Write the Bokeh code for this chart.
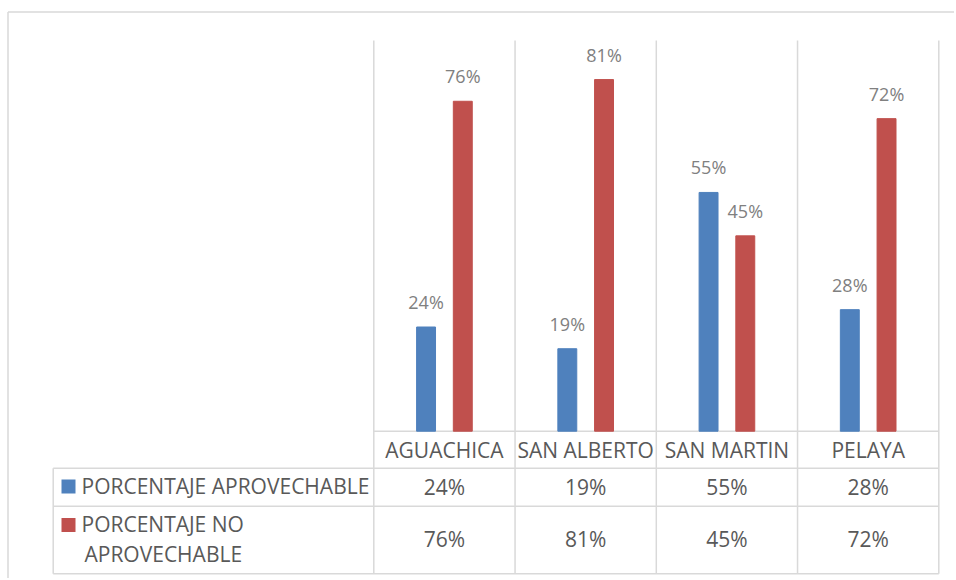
from bokeh.plotting import figure
from bokeh.models import Range1d, ColumnDataSource
from bokeh.core.properties import value
from bokeh.embed import file_html
from bokeh.resources import INLINE

# ---------------- data ----------------
categories = ["AGUACHICA", "SAN ALBERTO", "SAN MARTIN", "PELAYA"]
aprovechable = [0.24, 0.19, 0.55, 0.28]
no_aprovechable = [0.76, 0.81, 0.45, 0.72]
series_names = ["PORCENTAJE APROVECHABLE", "PORCENTAJE NO APROVECHABLE"]
y_max = 0.9

# ---------------- layout (page pixels) ----------------
W, H = 954, 578
PAGE = 0
plot_left_px = 373.3
cat_w_px = 141.25
zero_px = 430.7
top_px = 40.0
unit_px = (zero_px - top_px) / y_max
SHIFT = 8.0  # baseline correction for text rendering

def X(px):
    return (px - plot_left_px) / cat_w_px

def Y(py):
    return (zero_px - py) / unit_px

def TY(py):
    return Y(py - SHIFT)

BLUE = "#4F81BD"
RED = "#C0504D"
BORDER = "#D9D9D9"
TXT = "#595959"
LBL = "#808080"
FONT = value("Open Sans")

p = figure(width=W, height=H,
           x_range=Range1d(X(PAGE), X(PAGE + W)),
           y_range=Range1d(Y(PAGE + H), Y(PAGE)),
           x_axis_type=None, y_axis_type=None,
           toolbar_location=None, output_backend="svg",
           min_border=0, outline_line_color=None,
           background_fill_color="white", border_fill_color="white")
p.grid.visible = False

n = len(categories)
centers = [i + 0.5 for i in range(n)]
off = 0.13
bw = 0.134

# ---------------- frame & table lines ----------------
row1 = 467.7
row2 = 505.7
row_bot = 573.3
tab_left = 52.7
x0s, y0s, x1s, y1s = [], [], [], []
x0s += [X(7.5), X(7.5)]; y0s += [Y(11.5), Y(11.5)]
x1s += [X(PAGE + W), X(7.5)]; y1s += [Y(11.5), Y(PAGE + H)]
for k in range(n + 1):
    x0s.append(k); y0s.append(y_max); x1s.append(k); y1s.append(Y(row_bot))
x0s.append(0); y0s.append(0); x1s.append(n); y1s.append(0)
for yy in (row1, row2, row_bot):
    x0s.append(X(tab_left)); y0s.append(Y(yy)); x1s.append(n); y1s.append(Y(yy))
x0s.append(X(tab_left)); y0s.append(Y(row1)); x1s.append(X(tab_left)); y1s.append(Y(row_bot))
p.segment(x0=x0s, y0=y0s, x1=x1s, y1=y1s, line_color=BORDER, line_width=1.5)

# ---------------- bars ----------------
src_a = ColumnDataSource(dict(x=[c - off for c in centers], top=aprovechable,
                              lab=[f"{round(v*100)}%" for v in aprovechable]))
src_b = ColumnDataSource(dict(x=[c + off for c in centers], top=no_aprovechable,
                              lab=[f"{round(v*100)}%" for v in no_aprovechable]))
p.vbar(x="x", top="top", bottom=0, width=bw, source=src_a, fill_color=BLUE, line_color=BLUE)
p.vbar(x="x", top="top", bottom=0, width=bw, source=src_b, fill_color=RED, line_color=RED)

for s in (src_a, src_b):
    p.text(x="x", y="top", text="lab", source=s, y_offset=-17 - SHIFT,
           text_align="center", text_baseline="alphabetic",
           text_font=FONT, text_font_size=value("18px"), text_color=LBL)

# ---------------- table text ----------------
p.text(x=centers, y=[TY(457.3)] * n, text=categories,
       text_align="center", text_baseline="alphabetic",
       text_font=FONT, text_font_size=value("21px"), text_color=TXT)
p.text(x=centers, y=[TY(494.0)] * n, text=[f"{round(v*100)}%" for v in aprovechable],
       text_align="center", text_baseline="alphabetic",
       text_font=FONT, text_font_size=value("21px"), text_color=TXT)
p.text(x=centers, y=[TY(546.7)] * n, text=[f"{round(v*100)}%" for v in no_aprovechable],
       text_align="center", text_baseline="alphabetic",
       text_font=FONT, text_font_size=value("21px"), text_color=TXT)

# legend keys
p.rect(x=[X(68), X(68)], y=[Y(486), Y(524.5)], width=14, height=14,
       width_units="screen", height_units="screen",
       fill_color=[BLUE, RED], line_color=None)
name2 = series_names[1].split(" ")
p.text(x=[X(81), X(81), X(84)], y=[TY(493.0), TY(531.0), TY(561.0)],
       text=[series_names[0], " ".join(name2[:2]), name2[2]],
       text_align="left", text_baseline="alphabetic",
       text_font=FONT, text_font_size=value("21px"), text_color=TXT)

open("out.html", "w").write(file_html(p, INLINE))
